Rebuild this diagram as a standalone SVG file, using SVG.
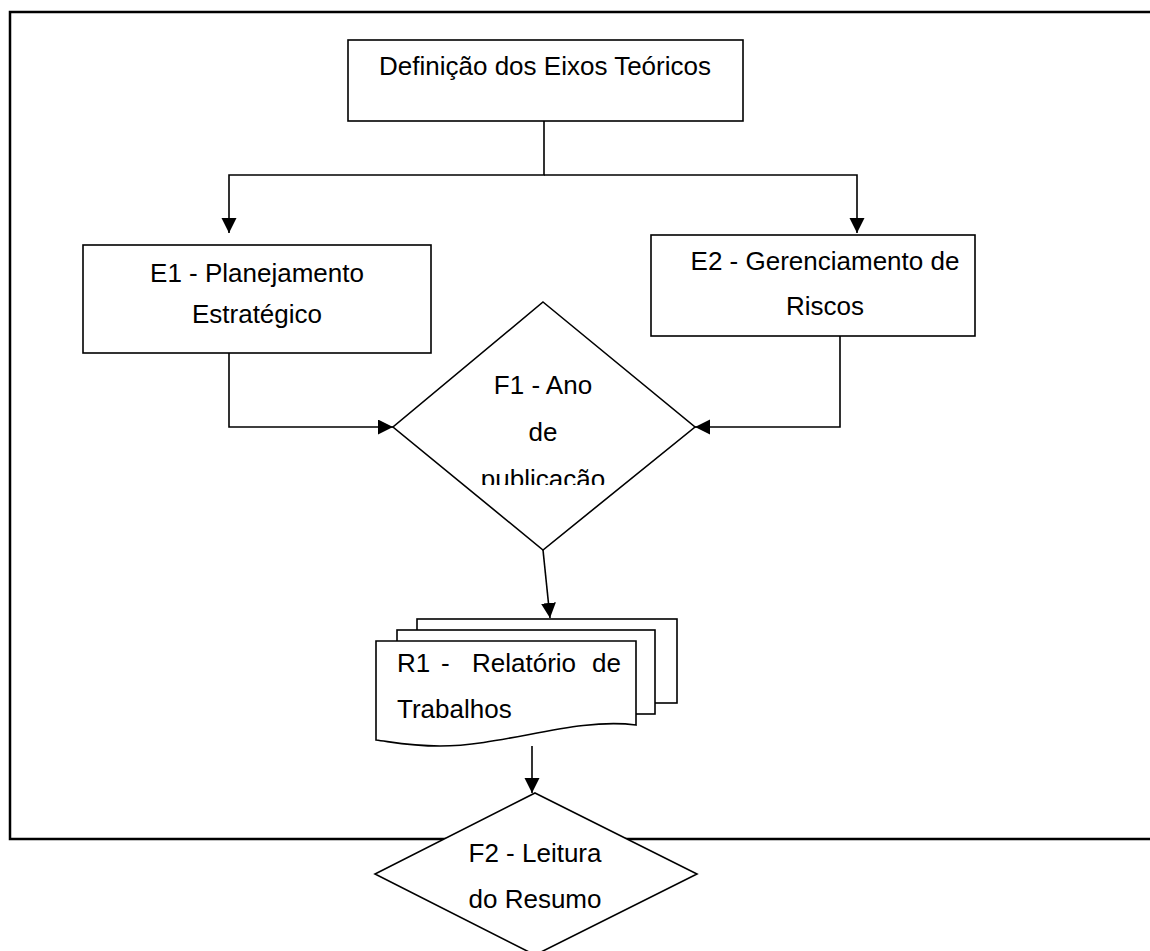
<svg xmlns="http://www.w3.org/2000/svg" width="1150" height="951" viewBox="0 0 1150 951">
  <style>
    .shape { fill: #ffffff; stroke: #000000; stroke-width: 1.6; }
    .frame { fill: none; stroke: #000000; stroke-width: 2.5; }
    .conn { fill: none; stroke: #000000; stroke-width: 1.6; }
    .label { font-family: "Liberation Sans", Arial, sans-serif; font-size: 26px; fill: #000000; }
    .mid { text-anchor: middle; }
  </style>
  <defs>
    <marker id="arrow" markerUnits="userSpaceOnUse" markerWidth="16" markerHeight="16" refX="15" refY="7.5" orient="auto">
      <path d="M0,0 L15,7.5 L0,15 Z" fill="#000000"/>
    </marker>
    <clipPath id="f1-clip">
      <rect x="420" y="350" width="250" height="135"/>
    </clipPath>
  </defs>

  <rect width="1150" height="951" fill="#ffffff"/>

  <!-- page frame -->
  <path class="frame" d="M1150,12 H10 V839 H1150"/>

  <!-- connectors -->
  <g id="connectors">
    <path class="conn" d="M544,121 V175 H229 V233" marker-end="url(#arrow)"/>
    <path class="conn" d="M544,175 H857 V233" marker-end="url(#arrow)"/>
    <path class="conn" d="M229,353 V427 H393" marker-end="url(#arrow)"/>
    <path class="conn" d="M840,328 V427 H695" marker-end="url(#arrow)"/>
    <path class="conn" d="M543,550 L550,618" marker-end="url(#arrow)"/>
    <path class="conn" d="M532,746 V793" marker-end="url(#arrow)"/>
  </g>

  <g id="definicao">
    <rect class="shape" x="348" y="40" width="395" height="81"/>
    <text class="label mid" x="545" y="75">Definição dos Eixos Teóricos</text>
  </g>

  <g id="e1">
    <rect class="shape" x="83" y="245" width="348" height="108"/>
    <text class="label mid" x="257" y="282">E1 - Planejamento</text>
    <text class="label mid" x="257" y="323">Estratégico</text>
  </g>

  <g id="e2">
    <rect class="shape" x="651" y="235" width="324" height="101"/>
    <text class="label mid" x="825" y="270">E2 - Gerenciamento de</text>
    <text class="label mid" x="825" y="315">Riscos</text>
  </g>

  <g id="f1">
    <polygon class="shape" points="543,302 695,427 543,550 393,427"/>
    <g clip-path="url(#f1-clip)">
      <text class="label mid" x="543" y="394">F1 - Ano</text>
      <text class="label mid" x="543" y="441">de</text>
      <text class="label mid" x="543" y="488">publicação</text>
    </g>
  </g>

  <g id="r1">
    <rect class="shape" x="417" y="619" width="260" height="84"/>
    <rect class="shape" x="397" y="630" width="258" height="84"/>
    <path class="shape" d="M376,641 H636 V725 C575,717 505,746 440,746 C410,746 392,742 376,740 Z"/>
    <text class="label" y="672"><tspan x="397">R1</tspan><tspan x="441">-</tspan><tspan x="472">Relatório</tspan><tspan x="592">de</tspan></text>
    <text class="label" x="397" y="718">Trabalhos</text>
  </g>

  <g id="f2">
    <polygon class="shape" points="535,793 697,874 535,955 375,874"/>
    <text class="label mid" x="535" y="862">F2 - Leitura</text>
    <text class="label mid" x="535" y="908">do Resumo</text>
  </g>
</svg>
